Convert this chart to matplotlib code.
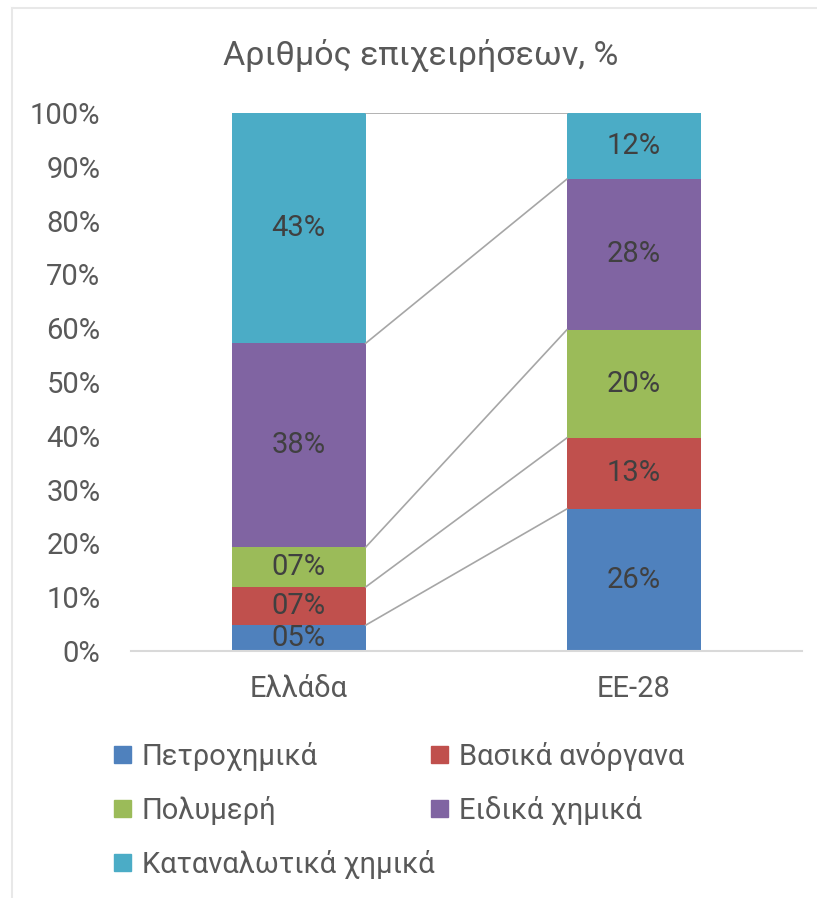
import matplotlib
matplotlib.use("Agg")
import matplotlib.pyplot as plt
from matplotlib import font_manager
from matplotlib.patches import Rectangle
from matplotlib.lines import Line2D
from matplotlib.ticker import PercentFormatter

# pick a narrow-ish font with Greek glyphs
font = "Roboto"
for cand in ["Liberation Sans Narrow", "Roboto"]:
    try:
        font_manager.findfont(cand, fallback_to_default=False)
        font = cand
        break
    except Exception:
        pass
plt.rcParams['font.family'] = [font, 'DejaVu Sans']

title = "Αριθμός επιχειρήσεων, %"
categories = ["Ελλάδα", "ΕΕ-28"]
series = ["Πετροχημικά", "Βασικά ανόργανα", "Πολυμερή", "Ειδικά χημικά", "Καταναλωτικά χημικά"]
greece = [4.8, 7.1, 7.4, 37.9, 42.8]
eu28 = [26.4, 13.2, 20.1, 28.0, 12.3]
colors = ["#4F81BD", "#C0504D", "#9BBB59", "#8064A2", "#4BACC6"]

W, H = 817, 898
FS = 21
fig = plt.figure(figsize=(W / 100, H / 100), dpi=100)
ax = fig.add_axes([131 / W, 1 - 651 / H, (801.5 - 131) / W, (651 - 113) / H])

# chart frame
fig.add_artist(Line2D([12 / W, 1], [1 - 8 / H, 1 - 8 / H], transform=fig.transFigure, color="#E8E8E8", lw=1.5))
fig.add_artist(Line2D([12 / W, 12 / W], [0, 1 - 8 / H], transform=fig.transFigure, color="#E8E8E8", lw=1.5))

x = [0, 1]
bw = 0.4
bottoms = [0, 0]
for i, name in enumerate(series):
    vals = [greece[i], eu28[i]]
    ax.bar(x, vals, bw, bottom=bottoms, color=colors[i], label=name)
    for xi, v, b in zip(x, vals, bottoms):
        ax.text(xi, b + v / 2, f"{v:02.0f}%", ha="center", va="center", fontsize=FS, color="#404040")
    bottoms = [bottoms[0] + vals[0], bottoms[1] + vals[1]]
    # series lines
    ax.plot([x[0] + bw / 2, x[1] - bw / 2], bottoms, color="#A6A6A6", lw=1.2)

ax.set_xlim(-0.5, 1.5)
ax.set_ylim(0, 100)
ax.set_yticks(range(0, 101, 10))
ax.yaxis.set_major_formatter(PercentFormatter(decimals=0))
ax.set_xticks(x)
ax.set_xticklabels(categories)
ax.tick_params(axis="y", length=0, pad=22, labelsize=FS, labelcolor="#595959")
ax.tick_params(axis="x", length=0, pad=17, labelsize=FS, labelcolor="#595959")
for s in ["top", "right", "left"]:
    ax.spines[s].set_visible(False)
ax.spines["bottom"].set_color("#D9D9D9")
ax.spines["bottom"].set_linewidth(1.5)

fig.text(421 / W, 1 - 65 / H, title, ha="center", va="baseline", fontsize=24.5, color="#595959")

# legend, row-wise in two columns
for i, (name, c) in enumerate(zip(series, colors)):
    row, col = i // 2, i % 2
    lx = 114 + col * 317
    base = 765 + row * 54
    fig.add_artist(Rectangle((lx / W, 1 - (base - 2) / H), 17 / W, 17 / H,
                             transform=fig.transFigure, color=c))
    fig.text((lx + 28) / W, 1 - base / H, name, ha="left", va="baseline", fontsize=FS, color="#595959")

fig.savefig("out.png", dpi=100)
